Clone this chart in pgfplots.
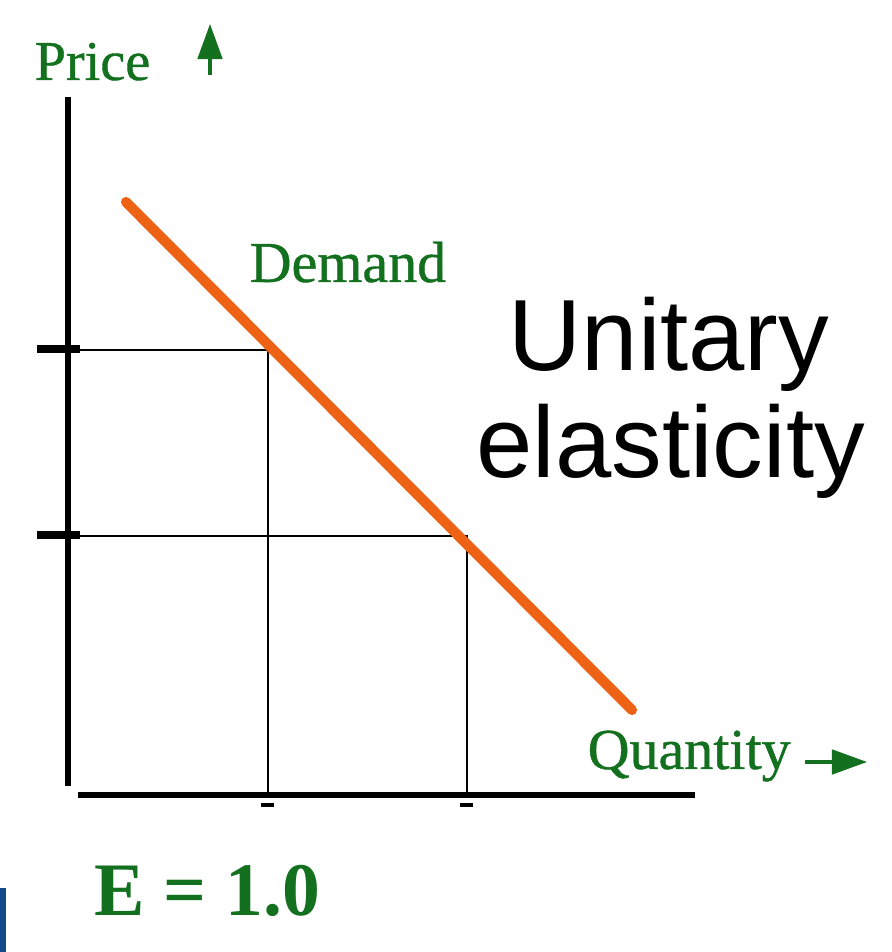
\documentclass[border=0pt]{standalone}
\usepackage{pgfplots}
\pgfplotsset{compat=1.18}
\usepackage{fontspec}
\setmainfont{Liberation Serif}
\newfontfamily\labelserif{Liberation Serif}[FakeBold=0.7]
\newfontfamily\labelsans{Liberation Sans}
\usetikzlibrary{arrows.meta}

\definecolor{labelgreen}{RGB}{18,112,30}
\definecolor{demandorange}{RGB}{238,98,22}
\definecolor{cornerblue}{RGB}{22,72,140}

\begin{document}
\begin{tikzpicture}
\begin{axis}[
  scale only axis,
  width=8.91cm, height=9.52cm,
  xmin=0, xmax=891, ymin=0, ymax=952,
  axis lines=none,
  clip=false,
]
% corner band
\addplot[draw=none, fill=cornerblue] coordinates {(0,0) (6,0) (6,64) (0,64)} -- cycle;

% axes
\addplot[black, line width=1.5pt] coordinates {(68,855) (68,166)};
\addplot[black, line width=1.5pt] coordinates {(78,157) (695,157)};

% price ticks on the vertical axis
\addplot[black, line width=2.3pt] coordinates {(37,603) (80,603)};
\addplot[black, line width=2.3pt] coordinates {(37,417) (80,417)};

% quantity ticks below the horizontal axis
\addplot[black, line width=1.4pt] coordinates {(261,147) (274,147)};
\addplot[black, line width=1.4pt] coordinates {(460,147) (473,147)};

% guide lines from the demand curve to both axes
\addplot[black, line width=0.6pt] coordinates {(68,602) (268,602) (268,157)};
\addplot[black, line width=0.6pt] coordinates {(68,416) (467,416) (467,157)};

% demand curve
\addplot[demandorange, line width=2.9pt, line cap=round] coordinates {(126,750) (632,242)};

% axis direction arrows
\addplot[labelgreen, line width=0.9pt, -{Triangle[length=10pt,width=7pt]}] coordinates {(210,877) (210,928)};
\addplot[labelgreen, line width=0.9pt, -{Triangle[length=10pt,width=7pt]}] coordinates {(805,190) (867,190)};

% labels
\node[anchor=base west, inner sep=0pt, text=labelgreen, font=\labelserif\fontsize{16}{18}\selectfont] at (axis cs:34,872) {Price};
\node[anchor=base west, inner sep=0pt, text=labelgreen, font=\labelserif\fontsize{16.5}{18}\selectfont] at (axis cs:249,670) {Demand};
\node[anchor=base west, inner sep=0pt, text=labelgreen, font=\labelserif\fontsize{16.5}{18}\selectfont] at (axis cs:587,183) {Quantity};
\node[anchor=base west, inner sep=0pt, text=labelgreen, font=\fontsize{21.5}{24}\selectfont\bfseries] at (axis cs:94,37) {E = 1.0};
\node[anchor=base west, inner sep=0pt, font=\labelsans\fontsize{28.8}{32}\selectfont] at (axis cs:508,581) {Unitary};
\node[anchor=base west, inner sep=0pt, font=\labelsans\fontsize{28.8}{32}\selectfont] at (axis cs:476,474) {elasticity};
\end{axis}
\pgfresetboundingbox
\path[use as bounding box] (current axis.south west) rectangle (current axis.north east);
\end{tikzpicture}
\end{document}
